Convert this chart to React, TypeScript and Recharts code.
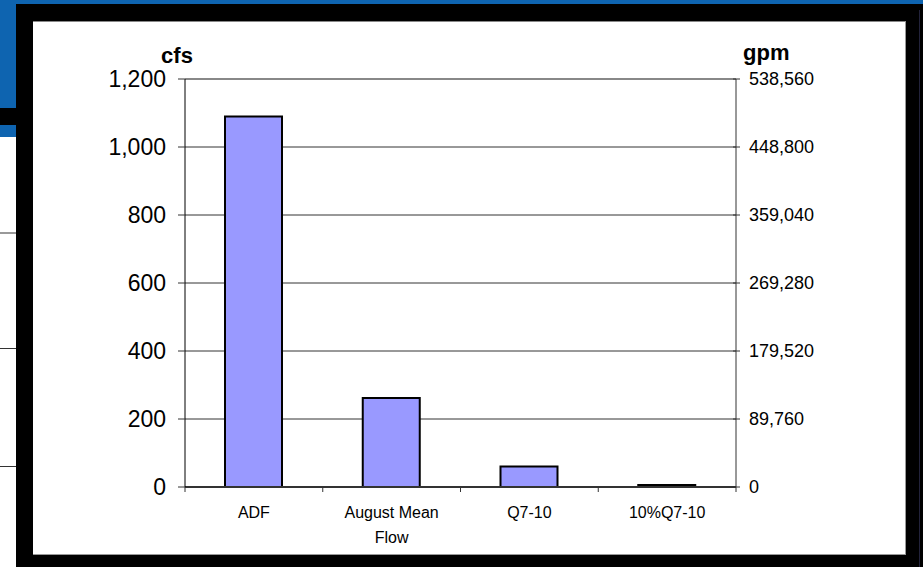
import { ComposedChart, Bar, Line, XAxis, YAxis, CartesianGrid, ReferenceLine } from 'recharts';

const categories = ['ADF', 'August Mean Flow', 'Q7-10', '10%Q7-10'];
const flowCfs = [1090, 262, 60, 6];
const cfsTicks = [0, 200, 400, 600, 800, 1000, 1200];
const gpmTicks = [0, 89760, 179520, 269280, 359040, 448800, 538560];

// 1 cfs = 448.8 gpm
const GPM_PER_CFS = 448.8;

const data = categories.map((name, i) => ({ name, cfs: flowCfs[i], gpm: flowCfs[i] * GPM_PER_CFS }));

const FONT = '"Liberation Sans", Arial, sans-serif';
const BLUE = '#0e64b0';
const AXIS = '#333';

const fmt = (v: number) => v.toLocaleString('en-US');

// wrap category names into lines of at most ~11 characters
function wrap(label: string, max = 11) {
  const lines: string[] = [];
  let cur = '';
  for (const w of label.split(' ')) {
    const next = cur ? cur + ' ' + w : w;
    if (next.length > max && cur) {
      lines.push(cur);
      cur = w;
    } else {
      cur = next;
    }
  }
  if (cur) lines.push(cur);
  return lines;
}

const CategoryTick = (props: any) => {
  const { x, y, payload, index, visibleTicksCount } = props;
  const half = payload?.offset ?? 68.875;
  const lines = wrap(String(payload.value));
  const last = index === (visibleTicksCount ?? categories.length) - 1;
  return (
    <g>
      <line x1={x - half} x2={x - half} y1={y} y2={y + 5} stroke={AXIS} strokeWidth={1} />
      {last && <line x1={x + half} x2={x + half} y1={y} y2={y + 5} stroke={AXIS} strokeWidth={1} />}
      <text textAnchor="middle" fontFamily={FONT} fontSize={16} fill="#000">
        {lines.map((l, i) => (
          <tspan key={i} x={x} y={y + 31 + i * 25}>{l}</tspan>
        ))}
      </text>
    </g>
  );
};

// right axis ticks cross the axis line
const GpmTick = (props: any) => {
  const { x, y, payload } = props;
  const axisX = x - 13;
  return (
    <g>
      <line x1={axisX - 3} x2={axisX + 4} y1={y} y2={y} stroke={AXIS} strokeWidth={1} />
      <text x={x} y={y} dy="0.355em" textAnchor="start" fontFamily={FONT} fontSize={18} fill="#000">
        {fmt(payload.value)}
      </text>
    </g>
  );
};

export default function App() {
  return (
    <div style={{ position: 'absolute', left: 0, top: 0, width: 923, height: 567, background: '#fff', overflow: 'hidden' }}>
      {/* slide behind the chart */}
      <div style={{ position: 'absolute', left: 0, top: 0, width: 923, height: 4, background: BLUE }} />
      <div style={{ position: 'absolute', left: 0, top: 0, width: 16, height: 108, background: BLUE }} />
      <div style={{ position: 'absolute', left: 0, top: 108, width: 16, height: 17, background: '#000' }} />
      <div style={{ position: 'absolute', left: 0, top: 125, width: 16, height: 12, background: BLUE }} />
      <div style={{ position: 'absolute', left: 0, top: 232, width: 16, height: 2, background: '#999' }} />
      <div style={{ position: 'absolute', left: 0, top: 348, width: 16, height: 1, background: '#333' }} />
      <div style={{ position: 'absolute', left: 0, top: 466, width: 16, height: 1, background: '#333' }} />

      {/* black frame */}
      <div style={{ position: 'absolute', left: 16, top: 4, width: 907, height: 563, background: '#000' }} />
      <div style={{ position: 'absolute', left: 919, top: 10, width: 1, height: 557, background: '#22223a' }} />
      <div style={{ position: 'absolute', left: 33, top: 21, width: 872, height: 532, background: '#fff', borderTop: '1px solid #888', borderRight: '1px solid #999', borderBottom: '1px solid #999' }} />

      <div style={{ position: 'absolute', left: 33, top: 22 }}>
        <ComposedChart width={872} height={531} data={data} margin={{ top: 57, right: 0, bottom: 0, left: 0 }} barSize={57}>
          <CartesianGrid yAxisId="cfs" vertical={false} stroke={AXIS} strokeWidth={1} />
          <XAxis
            dataKey="name"
            height={66}
            axisLine={{ stroke: AXIS, strokeWidth: 2 }}
            tickLine={false}
            tickSize={0}
            tickMargin={0}
            interval={0}
            tick={<CategoryTick />}
          />
          <YAxis
            yAxisId="cfs"
            orientation="left"
            width={152}
            domain={[0, 1200]}
            ticks={cfsTicks}
            tickFormatter={fmt}
            axisLine={{ stroke: '#000', strokeWidth: 1 }}
            tickLine={{ stroke: AXIS }}
            tickSize={7}
            tickMargin={12}
            tick={{ fontFamily: FONT, fontSize: 23, fill: '#000' }}
          />
          <YAxis
            yAxisId="gpm"
            orientation="right"
            width={169}
            domain={[0, 538560]}
            ticks={gpmTicks}
            allowDataOverflow
            axisLine={{ stroke: AXIS, strokeWidth: 1 }}
            tickLine={false}
            tickSize={0}
            tickMargin={13}
            tick={<GpmTick />}
          />
          <ReferenceLine yAxisId="cfs" y={1200} stroke="#888" strokeWidth={2} />
          <Bar yAxisId="cfs" dataKey="cfs" fill="#9999ff" stroke="#000" strokeWidth={2} isAnimationActive={false} />
          {/* invisible series that carries the gpm scale */}
          <Line yAxisId="gpm" dataKey="gpm" stroke="none" dot={false} activeDot={false} legendType="none" isAnimationActive={false} />
        </ComposedChart>
      </div>

      <svg width={923} height={567} style={{ position: 'absolute', left: 0, top: 0, pointerEvents: 'none' }}>
        <text x={177} y={63} textAnchor="middle" fontFamily={FONT} fontWeight="bold" fontSize={22} fill="#000">cfs</text>
        <text x={743} y={60} textAnchor="start" fontFamily={FONT} fontWeight="bold" fontSize={22} fill="#000">gpm</text>
      </svg>
    </div>
  );
}
